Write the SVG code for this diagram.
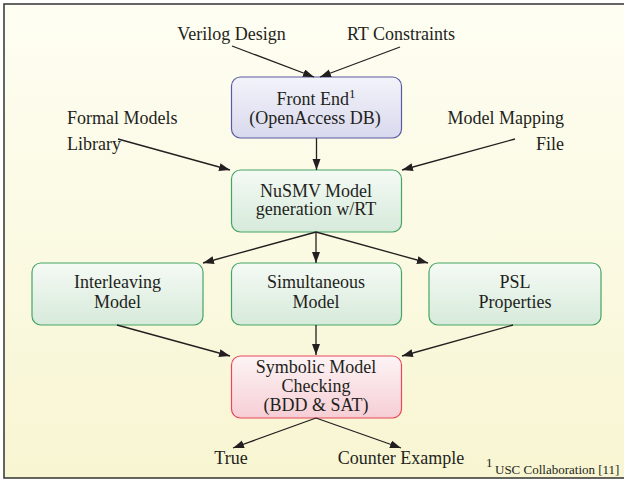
<svg xmlns="http://www.w3.org/2000/svg" width="624" height="480" viewBox="0 0 624 480">
<defs>
<linearGradient id="bg" x1="0" y1="0" x2="0" y2="1">
<stop offset="0" stop-color="#fefef3"/>
<stop offset="1" stop-color="#f8f5d2"/>
</linearGradient>
<linearGradient id="gBlue" x1="0" y1="0" x2="0" y2="1">
<stop offset="0" stop-color="#f3f3fa"/>
<stop offset="1" stop-color="#d9d9ee"/>
</linearGradient>
<linearGradient id="gGreen" x1="0" y1="0" x2="0" y2="1">
<stop offset="0" stop-color="#f5faf5"/>
<stop offset="1" stop-color="#d6eada"/>
</linearGradient>
<linearGradient id="gRed" x1="0" y1="0" x2="0" y2="1">
<stop offset="0" stop-color="#fdf4f5"/>
<stop offset="1" stop-color="#f6ced5"/>
</linearGradient>
<marker id="arr" markerUnits="userSpaceOnUse" markerWidth="12" markerHeight="10" refX="11" refY="4" orient="auto">
<path d="M0,0 L11,4 L0,8 Z" fill="#231f20"/>
</marker>
</defs>
<style>
text{font-family:"Liberation Serif","Times New Roman",serif;font-size:18px;fill:#231f20}
.c{text-anchor:middle}
.e{text-anchor:end}
.sup{font-size:13px}
.fn{font-size:13px}
.fn1{font-size:13px}
.blue{fill:url(#gBlue);stroke:#5a5aa2;stroke-width:1.2}
.green{fill:url(#gGreen);stroke:#45a567;stroke-width:1.2}
.red{fill:url(#gRed);stroke:#e8485a;stroke-width:1.2}
.conn path{fill:none;stroke:#231f20;stroke-width:1.3;marker-end:url(#arr)}
</style>
<rect x="0" y="0" width="624" height="480" fill="#ffffff"/>
<rect x="4" y="4" width="640" height="474" fill="url(#bg)" stroke="#333333" stroke-width="1.5"/>

<g id="inputs">
<text class="c" x="231.5" y="40">Verilog Design</text>
<text class="c" x="401" y="40">RT Constraints</text>
<text x="67" y="124">Formal Models</text>
<text x="67" y="150">Library</text>
<text class="e" x="564" y="124">Model Mapping</text>
<text class="e" x="564" y="150">File</text>
</g>

<g id="frontend">
<rect class="blue" x="231.5" y="77" width="170" height="61" rx="9"/>
<text class="c" x="316" y="105">Front End<tspan class="sup" dy="-7">1</tspan></text>
<text class="c" x="315" y="123.5">(OpenAccess DB)</text>
</g>

<g id="nusmv">
<rect class="green" x="231.5" y="170" width="170" height="62" rx="9"/>
<text class="c" x="316" y="196.5">NuSMV Model</text>
<text class="c" x="316" y="215">generation w/RT</text>
</g>

<g id="interleaving">
<rect class="green" x="32" y="263" width="171" height="62" rx="9"/>
<text class="c" x="117.5" y="288">Interleaving</text>
<text class="c" x="117.5" y="308">Model</text>
</g>

<g id="simultaneous">
<rect class="green" x="231.5" y="263" width="170" height="62" rx="9"/>
<text class="c" x="316" y="288">Simultaneous</text>
<text class="c" x="316" y="308">Model</text>
</g>

<g id="psl">
<rect class="green" x="429" y="263" width="172" height="62" rx="9"/>
<text class="c" x="515" y="288">PSL</text>
<text class="c" x="515" y="308">Properties</text>
</g>

<g id="symbolic">
<rect class="red" x="231.5" y="356" width="170" height="62" rx="9"/>
<text class="c" x="316" y="373">Symbolic Model</text>
<text class="c" x="316" y="391.5">Checking</text>
<text class="c" x="316" y="410.5">(BDD &amp; SAT)</text>
</g>

<g id="outputs">
<text class="c" x="231" y="464">True</text>
<text class="c" x="401" y="464">Counter Example</text>
</g>

<g id="footnote">
<text class="fn1" x="486" y="467">1</text>
<text class="fn" x="495" y="474">USC Collaboration [11]</text>
</g>

<g class="conn" id="connectors">
<path d="M232,46 L314,77"/>
<path d="M400,47 L320,77"/>
<path d="M316.5,138 L316.5,170"/>
<path d="M118,139 L230,170"/>
<path d="M515,139 L402,170"/>
<path d="M316,232 L203,263"/>
<path d="M316,232 L316,263"/>
<path d="M316,232 L428,263"/>
<path d="M117,325 L230,356"/>
<path d="M316,325 L316,355"/>
<path d="M513,325 L402,356"/>
<path d="M316,418 L233,448"/>
<path d="M316,418 L401,448"/>
</g>
</svg>
